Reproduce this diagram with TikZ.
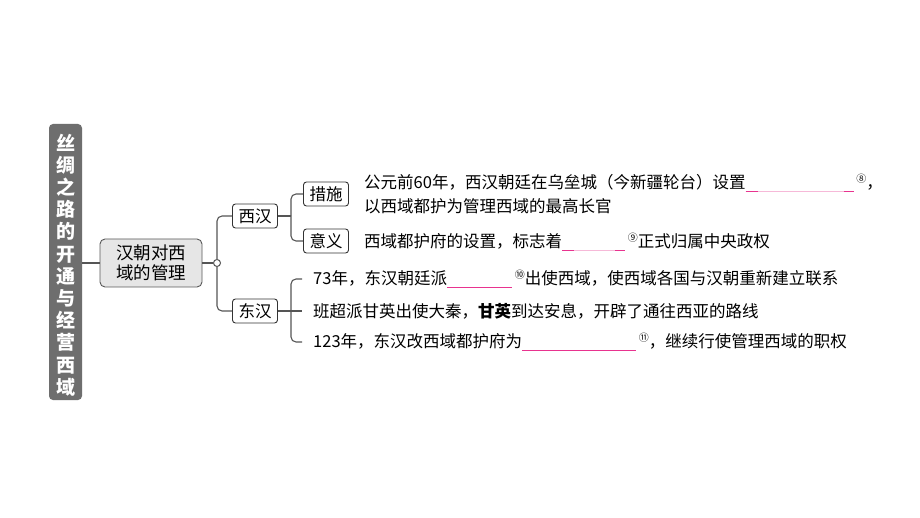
\documentclass[tikz,border=0pt]{standalone}
\usepackage{fontspec}
\setmainfont{Noto Sans CJK SC}
\usetikzlibrary{calc}
\definecolor{barfill}{HTML}{6E6E6E}
\definecolor{mainfill}{HTML}{E6E6E6}
\definecolor{linec}{HTML}{555555}
\definecolor{pinkD}{HTML}{E8338F}
\definecolor{pinkL}{HTML}{F6B9D8}
\newcommand\blankfaint[1]{\rlap{\textcolor{pinkL}{\rule[-3pt]{#1}{1.1pt}}}\rlap{\textcolor{pinkD}{\rule[-3pt]{12pt}{1.1pt}}}\hspace*{#1}\llap{\textcolor{pinkD}{\rule[-3pt]{10pt}{1.1pt}}}}
\newcommand\blanksolid[1]{\textcolor{pinkD}{\rule[-3pt]{#1}{1.1pt}}}
\newcommand\circnum[1]{\raisebox{6pt}{\fontsize{10}{10}\selectfont #1}}
\begin{document}
\begin{tikzpicture}[x=1pt,y=-1pt,
  conn/.style={draw=linec,line width=1.1pt,rounded corners=5pt},
  subbox/.style={draw=black!80,line width=0.9pt,rounded corners=3pt,fill=white,minimum width=45pt,minimum height=24pt,inner sep=0pt,font=\fontsize{16.5}{16.5}\selectfont},
  bodytext/.style={anchor=west,inner sep=0pt,font=\fontsize{16.5}{16.5}\selectfont}]
\useasboundingbox (0,0) rectangle (920,518);
\fill[white] (0,0) rectangle (920,518);
% left bar
\node[fill=barfill,rounded corners=4pt,minimum width=33pt,minimum height=276pt,inner sep=0pt] (bar) at (65.5,262) {};
\node[text=white,font=\fontsize{19}{22.2}\selectfont\bfseries,align=center,inner sep=0pt] (bartxt) at (65.5,265) {丝\\绸\\之\\路\\的\\开\\通\\与\\经\\营\\西\\域};
% main box
\node[draw=black!65,line width=0.9pt,fill=mainfill,rounded corners=5pt,minimum width=102pt,minimum height=48pt,inner sep=0pt,align=center,font=\fontsize{17.5}{19.5}\selectfont] (main) at (151,263) {汉朝对西\\域的管理};
\draw[conn] (bar.east |- main.west) -- (main.west);
\node[circle,draw=linec,line width=1pt,fill=white,minimum size=7pt,inner sep=0pt] (circ) at (217,263) {};
\draw[conn] (main.east) -- (circ.west);
% level 2
\node[subbox] (xh) at (255,216) {西汉};
\node[subbox] (dh) at (255,311) {东汉};
\draw[conn] (circ.north) |- (xh.west);
\draw[conn] (circ.south) |- (dh.west);
% level 3 west han
\node[subbox] (cs) at (326,194) {措施};
\node[subbox] (yy) at (326,241) {意义};
\coordinate (xhb) at (291,216);
\draw[conn] (xh.east) -- (xhb);
\draw[conn] (xhb) |- (cs.west);
\draw[conn] (xhb) |- (yy.west);
% texts west han
\node[bodytext] (t1) at (364,183) {公元前60年，西汉朝廷在乌垒城（今新疆轮台）设置\blankfaint{108pt}\,\circnum{⑧}，};
\node[bodytext] (t2) at (364,206) {以西域都护为管理西域的最高长官};
\node[bodytext] (t3) at (364,242) {西域都护府的设置，标志着\blankfaint{63pt}\,\circnum{⑨}正式归属中央政权};
% east han
\coordinate (dhb) at (291,311);
\coordinate (e1) at (302,279);
\coordinate (e2) at (302,311);
\coordinate (e3) at (302,342);
\draw[conn] (dh.east) -- (dhb);
\draw[conn] (dhb) |- (e1);
\draw[conn] (dhb) |- (e3);
\draw[conn] (dhb) -- (e2);
\node[bodytext] (d1) at (313,279) {73年，东汉朝廷派\blanksolid{65pt}\,\circnum{⑩}出使西域，使西域各国与汉朝重新建立联系};
\node[bodytext] (d2) at (313,311) {班超派甘英出使大秦，\textbf{甘英}到达安息，开辟了通往西亚的路线};
\node[bodytext] (d3) at (313,342) {123年，东汉改西域都护府为\blanksolid{114pt}\,\circnum{⑪}，继续行使管理西域的职权};
\end{tikzpicture}
\end{document}
